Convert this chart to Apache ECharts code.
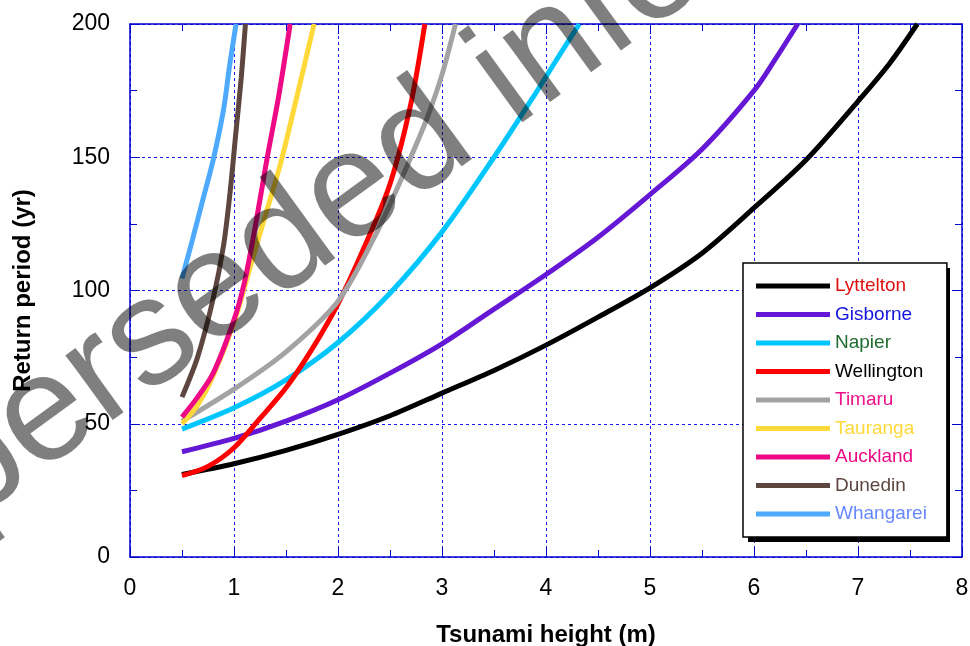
<!DOCTYPE html>
<html><head><meta charset="utf-8">
<script src="https://cdn.jsdelivr.net/npm/echarts@6/dist/echarts.min.js"></script>
<style>html,body{margin:0;padding:0;background:#fff}#c{width:970px;height:646px}</style>
</head><body><div id="c"></div>
<script>
// ---- data: [tsunami height (m), return period (yr)] ----
const seriesNames = ['Lyttelton','Gisborne','Napier','Wellington','Timaru','Tauranga','Auckland','Dunedin','Whangarei'];
const lyttelton = [[0.5,31],[1,35],[1.5,40],[2,46],[2.5,53],[3,61.5],[3.5,70],[4,79.5],[4.5,90],[5,101],[5.5,114],[6,131],[6.5,149],[7,171],[7.3,185],[7.57,200]];
const gisborne  = [[0.5,39.5],[1,44.5],[1.5,51],[2,59],[2.5,69],[3,80],[3.5,93],[4,106],[4.5,120],[5,136],[5.5,153],[6,175],[6.2,186.5],[6.42,200]];
const napier    = [[0.5,48],[1,56],[1.5,66.5],[2,80.5],[2.5,99],[3,122],[3.5,150],[3.9,174],[4.1,186.5],[4.32,200]];
const wellington= [[0.5,30.5],[0.75,34],[1,41],[1.25,52],[1.5,63.5],[1.75,78],[2,95],[2.25,116],[2.5,140],[2.7,170],[2.835,200]];
const timaru    = [[0.5,51],[1,63],[1.5,77],[2,96],[2.35,120],[2.6,141],[2.7,150],[2.85,164],[3,181],[3.13,200]];
const tauranga  = [[0.5,50],[0.65,57],[0.8,68],[1,88],[1.15,108],[1.3,128],[1.45,148],[1.6,172],[1.77,200]];
const auckland  = [[0.5,52.5],[0.65,60],[0.8,69],[1,89],[1.1,103],[1.2,123],[1.32,150],[1.43,173],[1.54,200]];
const dunedin   = [[0.5,60],[0.65,75],[0.8,97],[0.9,117],[0.96,136],[1.02,160],[1.07,180],[1.11,200]];
const whangarei = [[0.5,104.5],[0.6,119],[0.7,134],[0.8,149],[0.9,168],[0.96,185],[1.02,200]];
const xTickValues = [0,1,2,3,4,5,6,7,8];
const yTickValues = [0,50,100,150,200];

const seriesData = [lyttelton,gisborne,napier,wellington,timaru,tauranga,auckland,dunedin,whangarei];
const lineColors = ['#000000','#6418d6','#00c6ff','#ff0000','#a3a3a3','#ffd83a','#ee0a85','#5e4640','#4daaff'];
const textColors = ['#e01010','#1414e0','#1f6b2f','#000000','#f0128a','#ffd83a','#ee0a85','#5e4640','#6688ff'];

const FONT = '"Liberation Sans", Arial, sans-serif';
const AX = '#0000d0';
const GRIDC = '#1a1aff';

const chart = echarts.init(document.getElementById('c'), null, {renderer:'canvas'});

function baseX(pos, main){
  return {
    type:'value', min:xTickValues[0], max:xTickValues[xTickValues.length-1], interval:1, position:pos,
    axisLine:{show:true, onZero:false, lineStyle:{color:AX, width:1.5}},
    axisTick:{show:true, inside:true, length:10, lineStyle:{color:AX, width:1}},
    minorTick:{show:true, splitNumber:2, length:7, lineStyle:{color:AX, width:1}},
    axisLabel:{show:main, fontSize:23, color:'#000', margin:20, fontFamily:FONT},
    splitLine:{show:main, lineStyle:{color:GRIDC, type:[3,3], width:1}},
    name: main ? 'Tsunami height (m)' : '', nameLocation:'middle', nameGap:66,
    nameTextStyle:{fontSize:24, fontWeight:'bold', color:'#000', fontFamily:FONT}
  };
}
function baseY(pos, main){
  return {
    type:'value', min:yTickValues[0], max:yTickValues[yTickValues.length-1], interval:50, position:pos,
    axisLine:{show:true, onZero:false, lineStyle:{color:AX, width:1.5}},
    axisTick:{show:true, inside:true, length:10, lineStyle:{color:AX, width:1}},
    minorTick:{show:true, splitNumber:2, length:7, lineStyle:{color:AX, width:1}},
    axisLabel:{show:main, fontSize:23, color:'#000', margin:20, fontFamily:FONT},
    splitLine:{show:main, lineStyle:{color:GRIDC, type:[3,3], width:1}},
    name: main ? 'Return period (yr)' : '', nameLocation:'middle', nameGap:95, nameRotate:90,
    nameTextStyle:{fontSize:24, fontWeight:'bold', color:'#000', fontFamily:FONT}
  };
}

// watermark placement (style only)
const wmSize = 152, wmAngle = 36*Math.PI/180;
const wmBase = [-180, 639];
const wmMid = 0.31*wmSize;
const wmX = wmBase[0] - wmMid*Math.sin(wmAngle);
const wmY = wmBase[1] - wmMid*Math.cos(wmAngle);

// legend box geometry (style only)
const lgLeft = 743, lgTop = 263, lgW = 202, lgH = 274;

chart.setOption({
  animation:false,
  backgroundColor:'#ffffff',
  grid:{left:130, right:8, top:24, bottom:89, containLabel:false, outerBoundsMode:'none'},
  xAxis:[baseX('bottom', true), baseX('top', false)],
  yAxis:[baseY('left', true), baseY('right', false)],
  legend:{
    orient:'vertical', left:lgLeft, top:lgTop, padding:[13,20,13,13], width:lgW,
    itemWidth:74, itemHeight:5, itemGap:8.5, icon:'rect',
    backgroundColor:'#ffffff', borderColor:'#000', borderWidth:1.5, borderRadius:0,
    textStyle:{fontSize:19, lineHeight:20, fontFamily:FONT},
    z: 10,
    data: seriesNames.map((n,i)=>({name:n, icon:'rect', textStyle:{color:textColors[i]}}))
  },
  series: seriesNames.map((n,i)=>({
    name:n, type:'line', xAxisIndex:0, yAxisIndex:0,
    data: seriesData[i], showSymbol:false, symbol:'none',
    smooth:0.3,
    lineStyle:{color:lineColors[i], width:5, cap:'butt'},
    itemStyle:{color:lineColors[i]},
    z: 2+i
  })),
  graphic:[
    {type:'rect', z:9, silent:true,
     shape:{x:lgLeft+5, y:lgTop+5, width:lgW, height:lgH},
     style:{fill:'#000'}},
    {type:'text', x:wmX, y:wmY, rotation:wmAngle, z:100, silent:true,
     style:{text:'Superseded information', font:wmSize+'px '+FONT, fill:'rgba(0,0,0,0.5)',
       textAlign:'left', textVerticalAlign:'middle', verticalAlign:'middle'}}
  ]
});
</script>
</body></html>
